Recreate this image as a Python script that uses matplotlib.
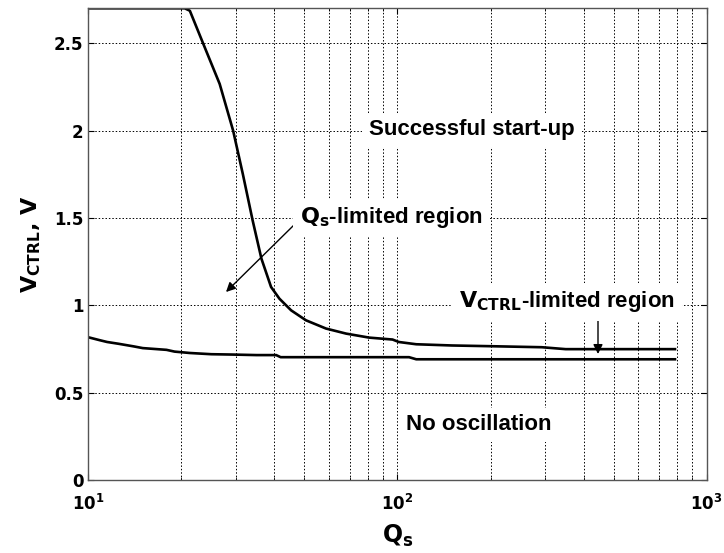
import matplotlib
matplotlib.use('Agg')
import matplotlib.pyplot as plt
from matplotlib.ticker import FixedLocator, LogLocator, NullFormatter

# upper boundary (Qs-limited / VCTRL-limited)
upper_q = [10, 20.5, 21.3, 23.5, 26.6, 29.4, 31.6, 34.0, 36.3, 39.0, 41.5, 45.3,
           50.6, 58.7, 68.2, 81, 96.4, 101, 115, 150, 198, 293, 350, 790]
upper_v = [2.7, 2.7, 2.686, 2.5, 2.267, 2.0, 1.752, 1.486, 1.267, 1.105, 1.038, 0.971,
           0.914, 0.867, 0.838, 0.815, 0.804, 0.79, 0.777, 0.77, 0.766, 0.76, 0.749, 0.749]

# lower boundary (no oscillation)
lower_q = [10, 10.9, 11.5, 12.5, 14, 15, 17.9, 19, 21.3, 25, 29.3, 35, 40.5, 41.9,
           109, 115, 790]
lower_v = [0.817, 0.8, 0.79, 0.78, 0.765, 0.755, 0.745, 0.735, 0.727, 0.72, 0.718,
           0.715, 0.715, 0.703, 0.703, 0.691, 0.691]

yticks = [0, 0.5, 1, 1.5, 2, 2.5]
ytick_labels = ['0', '0.5', '1', '1.5', '2', '2.5']
xticks = [10, 100, 1000]
xtick_labels = [r'$\mathbf{10^{1}}$', r'$\mathbf{10^{2}}$', r'$\mathbf{10^{3}}$']

plt.rcParams['font.family'] = 'DejaVu Sans'
plt.rcParams['mathtext.fontset'] = 'dejavusans'

W, H = 724, 553
fig = plt.figure(figsize=(W / 100, H / 100), dpi=100)
ax = fig.add_axes([0.122, 0.132, 0.854, 0.853])

ax.plot(upper_q, upper_v, color='black', lw=1.9)
ax.plot(lower_q, lower_v, color='black', lw=1.9)

ax.set_xscale('log')
ax.set_xlim(10, 1000)
ax.set_ylim(0, 2.7)

ax.xaxis.set_major_locator(FixedLocator(xticks))
ax.set_xticklabels(xtick_labels, fontsize=12)
ax.xaxis.set_minor_locator(LogLocator(base=10, subs=range(2, 10)))
ax.xaxis.set_minor_formatter(NullFormatter())
ax.set_yticks(yticks)
ax.set_yticklabels(ytick_labels, fontsize=12, fontweight='bold')

ax.tick_params(which='both', direction='in', top=True, right=True, length=4)
ax.tick_params(axis='x', which='major', pad=10)
ax.tick_params(axis='x', which='minor', length=2)

ax.grid(True, which='major', color='black', linestyle=(0, (1.5, 2)), lw=0.7)
ax.grid(True, which='minor', axis='x', color='black', linestyle=(0, (1.5, 2)), lw=0.7)

for s in ax.spines.values():
    s.set_color('#555555')
    s.set_linewidth(1.0)

ax.set_xlabel(r'$\mathbf{Q_s}$', fontsize=17, labelpad=6)
ax.set_ylabel(r'$\mathbf{V_{CTRL}}$, V', fontsize=16, fontweight='bold', labelpad=8)


# positions measured in pixels from the top-left corner of the image
def pix(x, y):
    return (x / W, 1 - y / H)


tfont = dict(family='Liberation Sans', fontweight='bold', fontsize=16)
box = dict(facecolor='white', edgecolor='none', pad=5)

fig.text(*pix(472, 130), 'Successful start-up', ha='center', va='center', bbox=box, **tfont)
fig.text(*pix(479, 425), 'No oscillation', ha='center', va='center', bbox=box, **tfont)
fig.text(*pix(300, 218), r'$\mathbf{Q_s}$-limited region', ha='left', va='center',
         bbox=box, **tfont)
fig.text(*pix(459, 302), r'$\mathbf{V_{CTRL}}$-limited region', ha='left', va='center',
         bbox=box, **tfont)

arrow = dict(arrowstyle='-|>', color='black', lw=1.0, shrinkA=0, shrinkB=0,
             mutation_scale=14)
ax.annotate('', xy=pix(226, 292), xycoords='figure fraction',
            xytext=pix(294, 225), textcoords='figure fraction', arrowprops=arrow)
ax.annotate('', xy=pix(598, 354), xycoords='figure fraction',
            xytext=pix(598, 316), textcoords='figure fraction', arrowprops=arrow)

fig.savefig('out.png', dpi=100)
